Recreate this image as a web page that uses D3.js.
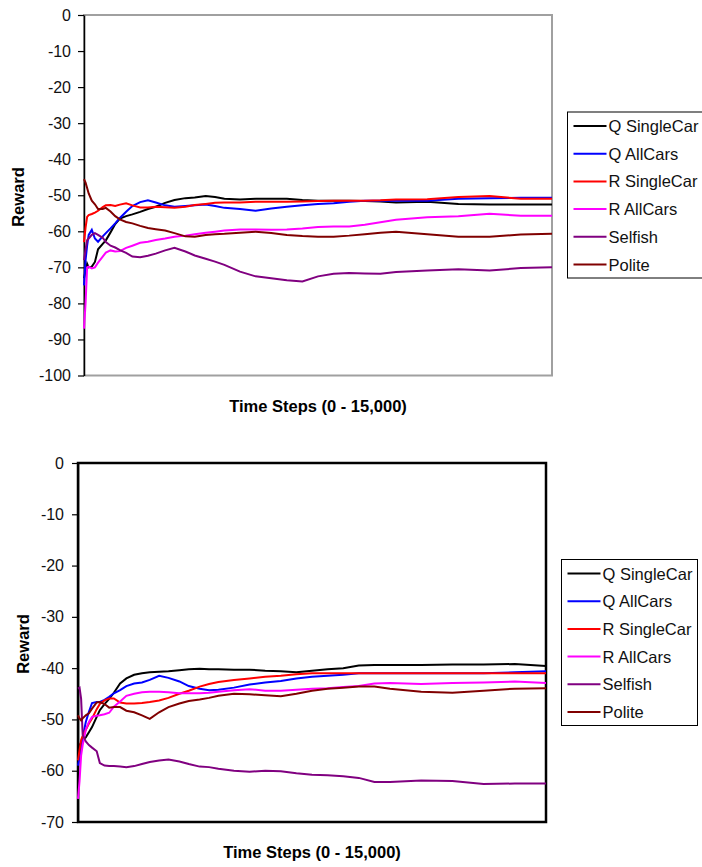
<!DOCTYPE html>
<html>
<head>
<meta charset="utf-8">
<script src="https://cdn.jsdelivr.net/npm/d3@7"></script>
<style>
  body { margin: 0; background: #fff; }
  text { font-family: Arial, "Liberation Sans", sans-serif; }
</style>
</head>
<body>
<div id="plot"></div>
<script>
// time steps (0 - 15,000)
const timeSteps = [0, 50, 100, 150, 250, 350, 450, 600, 700, 850, 1000, 1150, 1350, 1550,
  1800, 2050, 2300, 2600, 2900, 3250, 3550, 3900, 4200, 4500, 5000, 5500, 6000, 6500,
  7000, 7500, 8000, 8500, 9000, 9500, 10000, 11000, 12000, 13000, 14000, 15000];

const seriesNames = ["Q SingleCar", "Q AllCars", "R SingleCar", "R AllCars", "Selfish", "Polite"];

// first chart
const topQSingle = [-73, -71, -69, -70, -69.8, -68.5, -65, -63.5, -62.5, -60.3, -58, -56.5, -55.8, -55.3,
  -54.6, -53.8, -53.2, -52.1, -51.3, -50.8, -50.6, -50.2, -50.5, -51, -51.2, -51, -51, -51,
  -51.3, -51.5, -51.5, -51.5, -51.6, -51.7, -52, -51.8, -52.4, -52.6, -52.6, -52.6];
const topQAll = [-75, -68, -64, -61, -59.6, -62, -62.9, -61.4, -60.5, -59.2, -57.8, -56.3, -54.6, -53,
  -51.9, -51.4, -52, -52.8, -53.2, -53, -52.8, -52.6, -53, -53.5, -53.8, -54.3, -53.7, -53.2,
  -52.8, -52.4, -52.2, -51.8, -51.5, -51.5, -51.5, -51.5, -51, -50.8, -50.7, -50.7];
const topRSingle = [-63, -59, -56, -55.5, -55.2, -54.8, -54.3, -53.3, -52.8, -52.7, -53, -52.6, -52.2, -52.8,
  -53.4, -53.4, -53.2, -53.3, -53.5, -53.2, -52.7, -52.4, -52.1, -52, -52, -51.8, -51.8, -51.8,
  -51.7, -51.6, -51.5, -51.5, -51.5, -51.4, -51.2, -51.1, -50.5, -50.2, -51, -51];
const topRAll = [-87, -80, -70, -69.8, -70.3, -70, -68.7, -67, -65.9, -65.3, -65.6, -65.5, -64.6, -64,
  -63.2, -62.9, -62.4, -62, -61.5, -61.2, -60.8, -60.4, -60.1, -59.8, -59.5, -59.5, -59.6, -59.5,
  -59.2, -58.8, -58.7, -58.7, -58.2, -57.5, -56.8, -56.1, -55.8, -55.1, -55.7, -55.7];
const topSelfish = [-68, -65, -62.5, -62, -61, -60.5, -61, -61.8, -63, -64, -64.5, -65.2, -66, -67,
  -67.2, -66.8, -66.2, -65.3, -64.6, -65.6, -66.7, -67.6, -68.4, -69.3, -71.2, -72.5, -73, -73.6,
  -73.9, -72.5, -71.8, -71.6, -71.7, -71.8, -71.3, -70.9, -70.5, -70.9, -70.2, -70];
const topPolite = [-45.5, -46.5, -48, -49.5, -51.5, -52.5, -53.8, -53.8, -53.5, -54.5, -55.8, -56.7, -57.4, -57.8,
  -58.5, -59.1, -59.4, -59.8, -60.5, -61.4, -61.5, -61, -60.8, -60.7, -60.4, -60.1, -60.5, -61,
  -61.3, -61.5, -61.5, -61.2, -60.8, -60.4, -60.1, -60.8, -61.5, -61.5, -60.9, -60.7];

// second chart
const botQSingle = [-56, -55, -54.5, -54, -53.5, -52.5, -51.5, -49.5, -48.2, -47, -46, -44.8, -43, -42,
  -41.3, -41, -40.8, -40.7, -40.6, -40.4, -40.2, -40.1, -40.2, -40.2, -40.3, -40.3, -40.5, -40.6,
  -40.8, -40.5, -40.2, -40, -39.5, -39.4, -39.4, -39.4, -39.3, -39.3, -39.2, -39.6];
const botQAll = [-59, -57.5, -55.5, -53.5, -50.5, -48.5, -46.8, -46.6, -46.6, -46.2, -45.6, -44.9, -44.3, -43.5,
  -43, -42.8, -42.3, -41.5, -41.9, -42.6, -43.5, -44, -44.3, -44.2, -43.8, -43.2, -42.8, -42.5,
  -42, -41.7, -41.5, -41.3, -41, -41, -41, -41, -41, -41, -40.8, -40.6];
const botRSingle = [-58, -56, -54, -53.2, -52, -50.8, -49.8, -48, -47, -46.3, -45.9, -45.9, -46.7, -46.9,
  -46.9, -46.8, -46.6, -46.3, -45.8, -45, -44.4, -43.6, -43.1, -42.7, -42.3, -42, -41.7, -41.5,
  -41.2, -41, -41, -41, -41, -41, -41, -41, -41, -41, -41, -41];
const botRAll = [-65.5, -62, -57, -55, -52, -50.5, -49.5, -49.3, -49.2, -49, -48.7, -47.5, -46.5, -45.4,
  -45, -44.7, -44.6, -44.6, -44.7, -44.9, -44.9, -44.9, -44.8, -44.6, -44.3, -44.1, -44.4, -44.4,
  -44.2, -44, -43.9, -43.7, -43.5, -43, -42.9, -43.1, -42.9, -42.8, -42.6, -42.9];
const botSelfish = [-44, -43.8, -46, -53, -54.3, -55, -55.5, -56.2, -58.5, -59, -59.1, -59.1, -59.2, -59.3,
  -59.1, -58.7, -58.3, -58, -57.8, -58.2, -58.7, -59.2, -59.3, -59.6, -60, -60.2, -60, -60.1,
  -60.5, -60.8, -60.9, -61.1, -61.4, -62.2, -62.2, -61.9, -62, -62.6, -62.5, -62.5];
const botPolite = [-49.2, -49.8, -50.2, -49.8, -49.2, -48.8, -47.9, -46.7, -46.6, -47, -47.7, -47.6, -47.6, -48.3,
  -48.6, -49.2, -49.9, -48.6, -47.6, -46.9, -46.4, -46.1, -45.8, -45.4, -45, -45.1, -45.3, -45.5,
  -45, -44.4, -44, -43.8, -43.6, -43.6, -44, -44.6, -44.8, -44.4, -44, -43.9];

const topTicks = [0, -10, -20, -30, -40, -50, -60, -70, -80, -90, -100];
const botTicks = [0, -10, -20, -30, -40, -50, -60, -70];

const colors = ["#000000", "#0000ff", "#ff0000", "#ff00ff", "#800080", "#800000"];

const w = 702;
const h = 867;

const svg = d3.select("div#plot")
  .append("svg")
  .attr("width", w)
  .attr("height", h);

svg.append("rect")
  .attr("width", w)
  .attr("height", h)
  .attr("fill", "white");

function drawChart(cfg) {
  const x = d3.scaleLinear().domain([0, 15000]).range([cfg.left, cfg.right]);
  const y = d3.scaleLinear().domain([cfg.yMin, 0]).range([cfg.bottom, cfg.top]);

  // plot area border
  svg.append("rect")
    .attr("x", cfg.left)
    .attr("y", cfg.top)
    .attr("width", cfg.right - cfg.left)
    .attr("height", cfg.bottom - cfg.top)
    .attr("fill", "none")
    .attr("stroke", cfg.border)
    .attr("stroke-width", cfg.borderWidth);

  // y axis, plain hyphen for negatives like the original
  const ax = svg.append("g")
    .attr("transform", `translate(${cfg.left},0)`)
    .call(d3.axisLeft(y).tickValues(cfg.ticks).tickFormat(d => String(d))
      .tickSize(6).tickSizeOuter(0).tickPadding(cfg.pad));
  ax.select(".domain").attr("stroke", "#000").attr("stroke-width", 1.5);
  ax.selectAll(".tick line").attr("stroke", "#000").attr("stroke-width", 1.2);
  ax.selectAll(".tick text")
    .attr("fill", "#111")
    .style("font-size", "16px")
    .style("font-family", "Arial, 'Liberation Sans', sans-serif");

  // lines
  const line = d3.line()
    .x((d, i) => x(timeSteps[i]))
    .y(d => y(d));

  cfg.series.forEach((vals, k) => {
    svg.append("path")
      .datum(vals)
      .attr("fill", "none")
      .attr("stroke", colors[k])
      .attr("stroke-width", 2)
      .attr("d", line);
  });

  // axis titles
  svg.append("text")
    .attr("x", (cfg.left + cfg.right) / 2)
    .attr("y", cfg.xTitleY)
    .attr("text-anchor", "middle")
    .style("font-size", "16.5px")
    .style("font-weight", "bold")
    .text("Time Steps (0 - 15,000)");

  svg.append("text")
    .attr("transform", `translate(${cfg.yTitleX},${cfg.yTitleY}) rotate(-90)`)
    .attr("text-anchor", "middle")
    .style("font-size", "16.5px")
    .style("font-weight", "bold")
    .text("Reward");

  // legend
  const lg = svg.append("g").attr("transform", `translate(${cfg.legX},${cfg.legY})`);
  lg.append("rect")
    .attr("width", cfg.legW)
    .attr("height", 166)
    .attr("fill", "white")
    .attr("stroke", "#000")
    .attr("stroke-width", 1);
  seriesNames.forEach((name, k) => {
    const yy = 14 + k * 27.7;
    lg.append("line")
      .attr("x1", 6).attr("x2", 39)
      .attr("y1", yy).attr("y2", yy)
      .attr("stroke", colors[k])
      .attr("stroke-width", 2);
    lg.append("text")
      .attr("x", 41)
      .attr("y", yy + 6)
      .style("font-size", "16.5px")
      .attr("fill", "#111")
      .text(name);
  });
}

drawChart({
  left: 84, right: 552, top: 15, bottom: 375.5, yMin: -100, ticks: topTicks, pad: 7,
  border: "#a0a0a0", borderWidth: 2,
  series: [topQSingle, topQAll, topRSingle, topRAll, topSelfish, topPolite],
  xTitleY: 412, yTitleX: 24, yTitleY: 197,
  legX: 567.5, legY: 112, legW: 150
});

drawChart({
  left: 78, right: 546, top: 463, bottom: 822, yMin: -70, ticks: botTicks, pad: 8,
  border: "#000", borderWidth: 2.5,
  series: [botQSingle, botQAll, botRSingle, botRAll, botSelfish, botPolite],
  xTitleY: 858, yTitleX: 29, yTitleY: 644,
  legX: 561.5, legY: 559.5, legW: 136
});
</script>
</body>
</html>
